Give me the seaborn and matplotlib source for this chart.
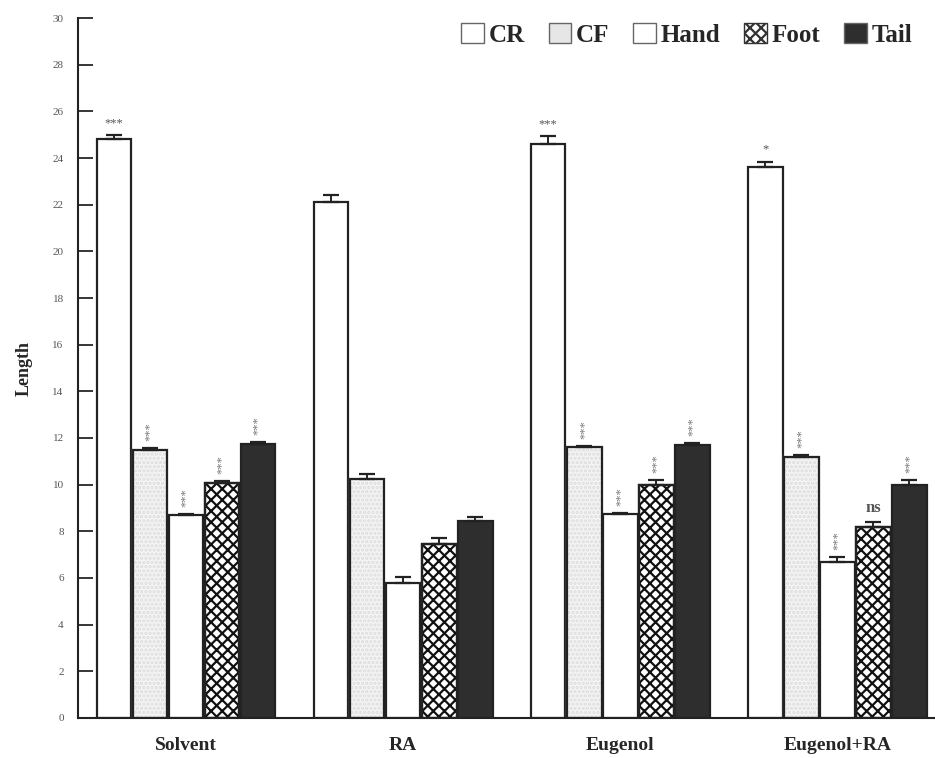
import numpy as np
import pandas as pd
import seaborn as sns
import matplotlib
matplotlib.use("Agg")
import matplotlib.pyplot as plt
from matplotlib.patches import Patch

groups = ["Solvent", "RA", "Eugenol", "Eugenol+RA"]
parts = ["CR", "CF", "Hand", "Foot", "Tail"]
values = {
    "CR":   [24.8, 22.1, 24.6, 23.6],
    "CF":   [11.5, 10.25, 11.6, 11.2],
    "Hand": [8.7, 5.8, 8.75, 6.7],
    "Foot": [10.05, 7.45, 10.0, 8.2],
    "Tail": [11.75, 8.45, 11.7, 10.0],
}
errors = {
    "CR":   [0.2, 0.3, 0.35, 0.25],
    "CF":   [0.05, 0.2, 0.07, 0.05],
    "Hand": [0.05, 0.25, 0.05, 0.2],
    "Foot": [0.1, 0.25, 0.2, 0.2],
    "Tail": [0.07, 0.15, 0.07, 0.2],
}
signif = {
    "CR":   ["***", "", "***", "*"],
    "CF":   ["***", "", "***", "***"],
    "Hand": ["***", "", "***", "***"],
    "Foot": ["***", "", "***", "ns"],
    "Tail": ["***", "", "***", "***"],
}
yticks = list(range(0, 31, 2))

rows = []
for p in parts:
    for g, v in zip(groups, values[p]):
        rows.append({"group": g, "part": p, "value": v})
df = pd.DataFrame(rows)

sns.set_style("ticks")
plt.rcParams["font.family"] = ["Liberation Serif", "DejaVu Serif"]
plt.rcParams["hatch.linewidth"] = 1.6

fig = plt.figure(figsize=(9.35, 7.58), dpi=100)
ax = fig.add_axes([0.083, 0.053, 0.917, 0.923])

facec = {"CR": "white", "CF": "#f4f4f4", "Hand": "white", "Foot": "white", "Tail": "#2e2e2e"}
hatches = {"CR": "", "CF": "....", "Hand": "", "Foot": "xxx", "Tail": ""}
hatchcol = {"CR": "#222222", "CF": "#dddddd", "Hand": "#222222", "Foot": "#111111", "Tail": "#222222"}

sns.barplot(data=df, x="group", y="value", hue="part", order=groups, hue_order=parts,
            errorbar=None, width=0.83, gap=0.04, ax=ax, legend=False,
            palette=[facec[p] for p in parts], saturation=1, edgecolor="#222222", linewidth=1.6)

for cont, p in zip(ax.containers, parts):
    for i, bar in enumerate(cont.patches):
        bar.set_facecolor(facec[p])
        bar.set_hatch(hatches[p])
        if hatches[p]:
            bar.set_edgecolor(hatchcol[p])
            ax.add_patch(plt.Rectangle(bar.get_xy(), bar.get_width(), bar.get_height(),
                                       fill=False, edgecolor="#222222", linewidth=1.6,
                                       zorder=bar.get_zorder() + 0.1))
        xc = bar.get_x() + bar.get_width() / 2
        h = bar.get_height()
        e = errors[p][i]
        ax.errorbar([xc], [h], yerr=[[0], [e]], fmt="none", ecolor="#222222",
                    elinewidth=1.4, capsize=6, capthick=1.6, zorder=5)
        s = signif[p][i]
        if s:
            if p == "CR" or s == "ns":
                ax.text(xc, h + e + 0.25, s, ha="center", va="bottom",
                        fontsize=9 if s != "ns" else 12, color="#555555",
                        fontweight="bold" if s == "ns" else "normal")
            else:
                ax.text(xc, h + e + 0.3, s, ha="center", va="bottom", rotation=90,
                        fontsize=9, color="#777777")

ax.set_xlim(-0.5, 3.45)
ax.set_ylim(0, 30)
ax.set_yticks(yticks)
ax.set_yticklabels([str(t) for t in yticks], fontsize=8, color="#555555")
ax.tick_params(axis="y", direction="in", length=11, width=1.3, pad=10)
ax.tick_params(axis="x", length=0, pad=14)
ax.set_xticks(range(len(groups)))
ax.set_xticklabels(groups, fontsize=14, fontweight="bold")
ax.set_xlabel("")
ax.set_ylabel("Length", fontsize=13, fontweight="bold", labelpad=14)
sns.despine(ax=ax, top=True, right=True)
for sp in ["left", "bottom"]:
    ax.spines[sp].set_linewidth(1.5)
    ax.spines[sp].set_color("#222222")

legend_face = {"CR": "white", "CF": "#e6e6e6", "Hand": "white", "Foot": "white", "Tail": "#2e2e2e"}
legend_hatch = {"CR": "", "CF": "", "Hand": "", "Foot": "xxx", "Tail": ""}
handles = []
for p in parts:
    handles.append(Patch(facecolor=legend_face[p], hatch=legend_hatch[p],
                         edgecolor="#666666" if p != "Foot" else "#333333", linewidth=1.0))
leg = fig.legend(handles, parts, loc="upper right", bbox_to_anchor=(1.0, 1.0), ncol=5,
                 frameon=False, handlelength=0.9, handleheight=0.9, handletextpad=0.2,
                 columnspacing=0.95, prop={"family": "Liberation Serif", "weight": "bold", "size": 18})

fig.savefig("out.png", dpi=100)
